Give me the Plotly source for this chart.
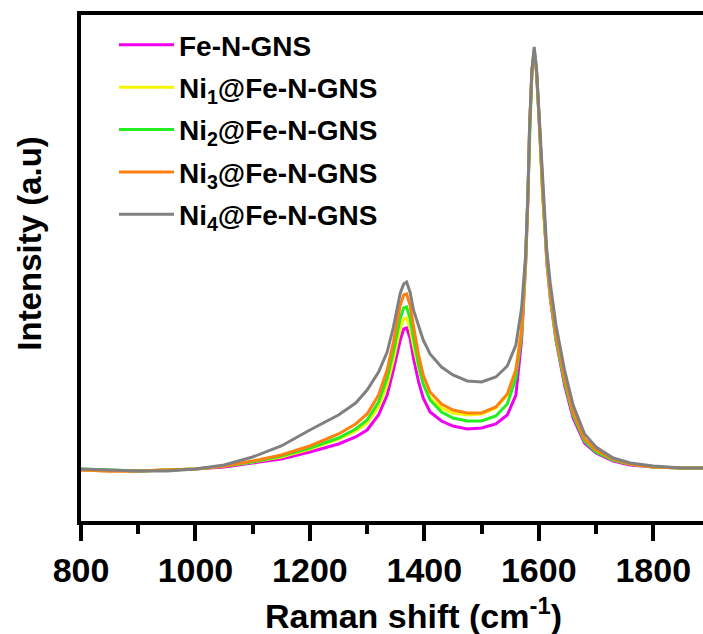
import plotly.graph_objects as go

raman_shift = [800, 850, 900, 950, 1000, 1050, 1100, 1150, 1200, 1250, 1280, 1300, 1320, 1335, 1346,
               1358, 1364, 1369, 1375, 1381, 1390, 1398, 1410, 1430, 1450, 1475, 1500, 1525, 1545, 1560,
               1570, 1577, 1581, 1584, 1588, 1592, 1596, 1601, 1607, 1614, 1620, 1630, 1645, 1660, 1680,
               1700, 1730, 1760, 1800, 1850, 1890]

fe_n_gns = [51, 50, 50, 51, 52, 54, 58, 62, 69, 77, 84, 91, 106, 126, 151, 181, 192, 193, 183, 163,
            139, 123, 109, 100, 95, 92, 93, 97, 106, 126, 181, 256, 321, 393, 449, 468, 449, 396, 321, 259,
            223, 181, 136, 103, 78, 68, 60, 56, 54, 53, 53]
ni1_fe_n_gns = [51, 50, 50, 51, 52, 55, 59, 64, 72, 82, 90, 98, 114, 136, 161, 193, 202, 203, 193, 175,
                153, 137, 123, 113, 108, 106, 107, 113, 126, 151, 191, 259, 323, 393, 449, 469, 449, 398, 324, 263,
                227, 184, 141, 108, 81, 70, 61, 57, 54, 53, 53]
ni2_fe_n_gns = [52, 51, 50, 51, 52, 55, 59, 65, 73, 83, 92, 101, 119, 143, 169, 203, 213, 214, 203, 183,
                156, 137, 121, 109, 103, 100, 100, 105, 117, 143, 186, 259, 325, 396, 451, 471, 451, 399, 325, 263,
                226, 183, 139, 106, 80, 69, 61, 57, 54, 53, 53]
ni3_fe_n_gns = [51, 50, 50, 51, 52, 55, 60, 66, 75, 87, 97, 107, 126, 151, 179, 216, 226, 227, 216, 195,
                166, 146, 129, 117, 111, 108, 108, 114, 127, 151, 191, 261, 325, 395, 450, 471, 450, 399, 325, 265,
                229, 187, 143, 109, 82, 71, 62, 57, 54, 53, 53]
ni4_fe_n_gns = [52, 51, 50, 50, 52, 56, 64, 75, 91, 106, 118, 131, 149, 169, 194, 228, 237, 239, 229, 211,
                194, 181, 167, 154, 146, 140, 139, 144, 155, 176, 213, 266, 326, 396, 451, 474, 453, 403, 331, 271,
                238, 196, 151, 116, 87, 74, 63, 58, 55, 53, 53]

series_names = ["Fe-N-GNS", "Ni<sub>1</sub>@Fe-N-GNS", "Ni<sub>2</sub>@Fe-N-GNS",
                "Ni<sub>3</sub>@Fe-N-GNS", "Ni<sub>4</sub>@Fe-N-GNS"]
series_values = [fe_n_gns, ni1_fe_n_gns, ni2_fe_n_gns, ni3_fe_n_gns, ni4_fe_n_gns]
series_colors = ["#F000F0", "#F5F500", "#22EE22", "#FF8010", "#808080"]

x_ticks = [800, 1000, 1200, 1400, 1600, 1800]

FONT = "Arial, Liberation Sans, sans-serif"

fig = go.Figure()
for i, (name, vals, col) in enumerate(zip(series_names, series_values, series_colors)):
    fig.add_trace(go.Scatter(x=raman_shift, y=vals, mode="lines", name=name,
                             legendgroup="g%d" % i,
                             line=dict(color=col, width=3)))

fig.update_layout(
    width=703, height=634,
    margin=dict(l=81, r=0, t=15, b=113),
    plot_bgcolor="white", paper_bgcolor="white",
    showlegend=True,
    legend=dict(x=0.053, y=0.99, xanchor="left", yanchor="top",
                font=dict(family=FONT, size=28, color="black", weight="bold"),
                bgcolor="rgba(0,0,0,0)", borderwidth=0, itemwidth=55,
                traceorder="grouped", tracegroupgap=3),
    yaxis=dict(range=[0, 506], showticklabels=False, ticks="", showline=True, linewidth=4,
               linecolor="black", showgrid=False, zeroline=False),
    annotations=[
        dict(text="Raman shift (cm<sup>-1</sup>)", x=0.535, xref="paper", y=-0.183, yref="paper",
             xanchor="center", yanchor="middle", showarrow=False,
             font=dict(family=FONT, size=34, color="black", weight="bold")),
        dict(text="Intensity (a.u)", x=-0.082, xref="paper", y=0.55, yref="paper",
             xanchor="center", yanchor="middle", showarrow=False, textangle=-90,
             font=dict(family=FONT, size=33, color="black", weight="bold")),
    ],
)
fig.update_xaxes(range=[800, 1887], tickvals=x_ticks, ticks="outside", ticklen=16, tickwidth=4,
                 tickcolor="black", showline=True, linewidth=4, linecolor="black", mirror=True,
                 showgrid=False, zeroline=False,
                 tickfont=dict(family=FONT, size=34, color="black", weight="bold"))
fig.update_xaxes(minor_ticks="outside", minor_ticklen=9, minor_tickwidth=4, minor_tickcolor="black",
                 minor_dtick=100, minor_tick0=800, minor_showgrid=False)

fig.write_html("out.html")
